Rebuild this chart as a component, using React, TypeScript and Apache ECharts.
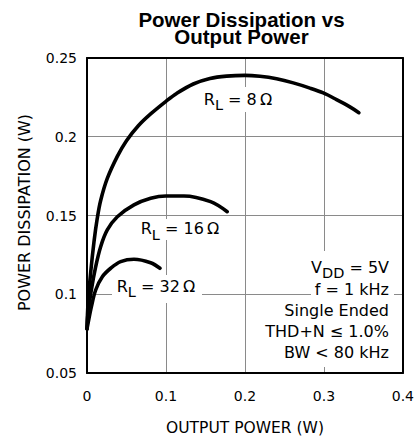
import React, { useEffect, useRef } from "react";
import * as echarts from "echarts";

// Output power (W) and power dissipation (W)
const rl8X = [0, 0.0013, 0.0047, 0.0089, 0.013, 0.0173, 0.0257, 0.0384, 0.05, 0.065, 0.0806, 0.1, 0.1135, 0.1346, 0.1557, 0.1768, 0.2, 0.219, 0.2401, 0.2612, 0.2823, 0.2992, 0.316, 0.3329, 0.3443];
const rl8Y = [0.078, 0.094, 0.114, 0.1335, 0.1482, 0.1595, 0.1735, 0.1875, 0.1975, 0.207, 0.2145, 0.2225, 0.2275, 0.2335, 0.237, 0.2385, 0.239, 0.2384, 0.2368, 0.2342, 0.2309, 0.2278, 0.2236, 0.219, 0.2153];

const rl16X = [0, 0.0013, 0.0055, 0.011, 0.0173, 0.0257, 0.0384, 0.0595, 0.0806, 0.1, 0.1228, 0.1565, 0.1776];
const rl16Y = [0.078, 0.088, 0.1027, 0.1175, 0.1302, 0.1408, 0.1492, 0.1567, 0.1609, 0.1624, 0.1624, 0.1588, 0.1524];

const rl32X = [0, 0.0013, 0.0055, 0.011, 0.0194, 0.03, 0.0426, 0.0595, 0.0806, 0.0924];
const rl32Y = [0.078, 0.0815, 0.092, 0.1027, 0.1111, 0.1165, 0.1207, 0.1222, 0.12, 0.1165];

const loadLabels = ["8", "16", "32"];
const conditions = ["f = 1 kHz", "Single Ended", "THD+N \u2264 1.0%", "BW < 80 kHz"];

const FAMILY = "DejaVu Sans";
const FONT = "'DejaVu Sans', sans-serif";

const pairs = (xs: number[], ys: number[]) => xs.map((x, i) => [x, ys[i]]);

const lineSeries = (name: string, xs: number[], ys: number[]) => ({
  name,
  type: "line",
  data: pairs(xs, ys),
  smooth: 0.35,
  showSymbol: false,
  symbol: "none",
  lineStyle: { color: "#000", width: 3.6, cap: "round", join: "round" },
  z: 3,
});

let measureCtx: CanvasRenderingContext2D | null = null;
const measure = (text: string, size: number) => {
  if (!measureCtx) measureCtx = document.createElement("canvas").getContext("2d");
  if (!measureCtx) return text.length * size * 0.6;
  measureCtx.font = `${size}px "${FAMILY}"`;
  return measureCtx.measureText(text).width;
};

const MAIN = 16;
const SUB = 14.5;
const SUB_DROP = 6;

// main letter + subscript + rest, anchored by left x, cap-centre y
const subText = (main: string, sub: string, rest: string, left: number, cy: number) => {
  const w1 = measure(main, MAIN);
  const w2 = measure(sub, SUB);
  const base = { fontFamily: FONT, fill: "#000", verticalAlign: "middle", align: "left" };
  return [
    { type: "text", x: left, y: cy, z: 60, style: { ...base, text: main, fontSize: MAIN } },
    { type: "text", x: left + w1, y: cy + SUB_DROP, z: 60, style: { ...base, text: sub, fontSize: SUB } },
    { type: "text", x: left + w1 + w2, y: cy, z: 60, style: { ...base, text: rest, fontSize: MAIN } },
  ];
};

const subWidth = (main: string, sub: string, rest: string) =>
  measure(main, MAIN) + measure(sub, SUB) + measure(rest, MAIN);

const rlLabel = (val: string, cx: number, cy: number, box: number[]) => {
  const rest = ` = ${val}\u2009\u03A9`;
  const w = subWidth("R", "L", rest);
  return [
    {
      type: "rect",
      z: 55,
      shape: { x: box[0], y: box[1], width: box[2], height: box[3] },
      style: { fill: "#fff" },
    },
    ...subText("R", "L", rest, cx - w / 2, cy),
  ];
};

export default function App() {
  const ref = useRef<HTMLDivElement>(null);

  useEffect(() => {
    if (!ref.current) return;
    const chart = echarts.init(ref.current, undefined, { renderer: "svg" });
    const gridColor = "#8a8a8a";
    const vddRest = " = 5V";
    const vddW = subWidth("V", "DD", vddRest);
    const option: any = {
      animation: false,
      backgroundColor: "#fff",
      grid: { left: 87, top: 58, right: 14, bottom: 68, containLabel: false },
      xAxis: [
        {
          type: "value",
          min: 0,
          max: 0.4,
          interval: 0.1,
          axisLine: { show: true, lineStyle: { color: "#000", width: 2 } },
          axisTick: { show: false },
          axisLabel: { color: "#000", fontSize: 14, fontFamily: FONT, margin: 16 },
          splitLine: { show: true, showMinLine: false, showMaxLine: false, lineStyle: { color: gridColor, width: 1 } },
        },
        {
          type: "value",
          position: "top",
          min: 0,
          max: 0.4,
          interval: 0.1,
          axisLine: { show: true, onZero: false, lineStyle: { color: "#000", width: 2 } },
          axisTick: { show: false },
          axisLabel: { show: false },
          splitLine: { show: false },
        },
      ],
      yAxis: [
        {
          type: "value",
          min: 0.05,
          max: 0.25,
          interval: 0.05,
          axisLine: { show: true, onZero: false, lineStyle: { color: "#000", width: 2 } },
          axisTick: { show: false },
          axisLabel: { color: "#000", fontSize: 14, fontFamily: FONT, margin: 10 },
          splitLine: { show: true, showMinLine: false, showMaxLine: false, lineStyle: { color: gridColor, width: 1 } },
        },
        {
          type: "value",
          position: "right",
          min: 0.05,
          max: 0.25,
          interval: 0.05,
          axisLine: { show: true, onZero: false, lineStyle: { color: "#000", width: 2 } },
          axisTick: { show: false },
          axisLabel: { show: false },
          splitLine: { show: false },
        },
      ],
      series: [
        lineSeries("RL = 8 Ω", rl8X, rl8Y),
        lineSeries("RL = 16 Ω", rl16X, rl16Y),
        lineSeries("RL = 32 Ω", rl32X, rl32Y),
      ],
      graphic: [
        {
          type: "text",
          x: 241.5,
          y: 19.5,
          z: 50,
          style: {
            text: "Power Dissipation vs",
            fontFamily: "'Liberation Sans', Arial, sans-serif",
            fontWeight: "bold",
            fontSize: 20.5,
            align: "center",
            verticalAlign: "middle",
            fill: "#000",
          },
        },
        {
          type: "text",
          x: 241.5,
          y: 36.5,
          z: 50,
          style: {
            text: "Output Power",
            fontFamily: "'Liberation Sans', Arial, sans-serif",
            fontWeight: "bold",
            fontSize: 20.5,
            align: "center",
            verticalAlign: "middle",
            fill: "#000",
          },
        },
        {
          type: "text",
          x: 24,
          y: 212.5,
          rotation: Math.PI / 2,
          z: 50,
          style: {
            text: "POWER DISSIPATION (W)",
            fontFamily: FONT,
            fontSize: 16,
            align: "center",
            verticalAlign: "middle",
            fill: "#000",
          },
        },
        {
          type: "text",
          x: 245,
          y: 427.5,
          z: 50,
          style: {
            text: "OUTPUT POWER (W)",
            fontFamily: FONT,
            fontSize: 15.5,
            align: "center",
            verticalAlign: "middle",
            fill: "#000",
          },
        },
        ...rlLabel(loadLabels[0], 238, 99, [196, 87, 82, 25]),
        ...rlLabel(loadLabels[1], 180, 228.5, [137, 219, 83, 21]),
        ...rlLabel(loadLabels[2], 156, 286, [112, 275, 90, 28]),
        {
          type: "rect",
          z: 40,
          shape: { x: 311, y: 251, width: 83, height: 116 },
          style: { fill: "#fff" },
        },
        ...subText("V", "DD", vddRest, 389 - vddW, 267),
        ...conditions.map((c, i) => ({
          type: "text",
          x: 389,
          y: 289 + i * 21,
          z: 50,
          style: { text: c, fontFamily: FONT, fontSize: 16, align: "right", verticalAlign: "middle", fill: "#000" },
        })),
      ],
    };
    chart.setOption(option);
    return () => chart.dispose();
  }, []);

  return (
    <div
      ref={ref}
      style={{ position: "fixed", left: 0, top: 0, width: 417, height: 441, background: "#fff" }}
    />
  );
}
